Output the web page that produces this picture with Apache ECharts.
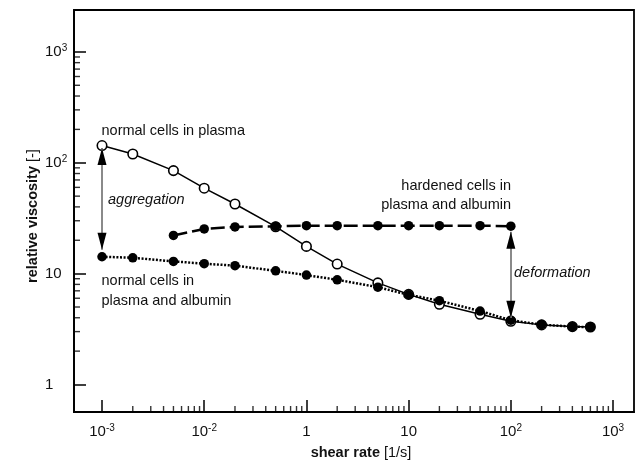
<!DOCTYPE html>
<html><head><meta charset="utf-8">
<script src="https://cdn.jsdelivr.net/npm/echarts@6/dist/echarts.min.js"></script>
<style>html,body{margin:0;padding:0;background:#fff}#c{width:638px;height:463px}</style>
</head><body><div id="c"></div>
<script>
// Shear-rate positions (axis units: one decade per labelled tick)
const shearRate = [0.001,0.002,0.005,0.01,0.02,0.05,0.1,0.2,0.5,1,2,5,10,20,40,60];
const viscNormalPlasma = [143,120,85,59,42.5,26.5,17.6,12.2,8.25,6.5,5.3,4.3,3.72,3.45,3.33,3.3];
const viscNormalAlbumin = [14.2,13.9,12.9,12.3,11.8,10.6,9.7,8.8,7.55,6.45,5.7,4.6,3.8,3.47,3.32,3.3];
const shearRateHardened = [0.005,0.01,0.02,0.05,0.1,0.2,0.5,1,2,5,10];
const viscHardened = [22.1,25.3,26.4,26.7,27.1,27.1,27.1,27.1,27.1,27.1,26.8];

// Tick labels
const xTickExps = [-3,-2,-1,0,1,2];
const xTickBase = ['10','10','1','10','10','10'];
const xTickSup  = ['-3','-2','','','2','3'];
const yTickExps = [0,1,2,3];
const yTickBase = ['1','10','10','10'];
const yTickSup  = ['','','2','3'];

// Annotation arrows [x, yFrom, yTo]
const aggregationArrow = [0.001, 136, 16.4];
const deformationArrow = [10, 23.9, 4.0];

const FONT = '"Liberation Sans", Arial, Helvetica, sans-serif';
const xMin = Math.pow(10, -3.274), xMax = Math.pow(10, 2.205);
const yMin = Math.pow(10, -0.248), yMax = Math.pow(10, 3.378);

function pairs(xs, ys){ return xs.map((x,i)=>[x, ys[i]]); }

// minor ticks (2..9 within each labelled decade)
const xMinor = [], yMinor = [];
for (let e = xTickExps[0]; e < xTickExps[xTickExps.length-1]; e++)
  for (let m = 2; m <= 9; m++) xMinor.push([m*Math.pow(10,e), yMin]);
for (let e = yTickExps[0]; e < yTickExps[yTickExps.length-1]; e++)
  for (let m = 2; m <= 9; m++) yMinor.push([xMin, m*Math.pow(10,e)]);

function tickFmt(exps, bases, sups){
  return function(v){
    const l = Math.log10(v), e = Math.round(l);
    if (Math.abs(l-e) > 1e-6) return '';
    const i = exps.indexOf(e);
    if (i < 0) return '';
    return sups[i] ? '{b|'+bases[i]+'}{s|'+sups[i]+'}' : '{b|'+bases[i]+'}';
  };
}
const richTick = {
  b:{fontSize:15, lineHeight:17, fontFamily:FONT, color:'#111'},
  s:{fontSize:10, lineHeight:11, verticalAlign:'top', fontFamily:FONT, color:'#111'}
};

const chart = echarts.init(document.getElementById('c'), null, {renderer:'canvas'});
const arrowHead = (x, y, up) => ({coord:[x,y], symbol:'triangle', symbolSize:[9,17],
  symbolRotate: up ? 0 : 180, symbolOffset:[0, up ? 8.5 : -8.5], itemStyle:{color:'#000'}});

chart.setOption({
  animation:false,
  backgroundColor:'#fff',
  grid:{left:74, right:4, top:10, bottom:51, containLabel:false, show:true, borderColor:'#000', borderWidth:1.8},
  xAxis:{type:'log', logBase:10, min:xMin, max:xMax,
    axisLine:{show:true, lineStyle:{color:'#000', width:1.8}},
    axisTick:{show:true, inside:true, length:12, lineStyle:{color:'#000', width:1.5}},
    splitLine:{show:false}, minorTick:{show:false},
    axisLabel:{show:true, margin:11, showMinLabel:false, showMaxLabel:false, fontSize:15, fontFamily:FONT, color:'#111',
      formatter: tickFmt(xTickExps, xTickBase, xTickSup), rich: richTick}},
  yAxis:{type:'log', logBase:10, min:yMin, max:yMax,
    axisLine:{show:true, lineStyle:{color:'#000', width:1.8}},
    axisTick:{show:true, inside:true, length:12, lineStyle:{color:'#000', width:1.5}},
    splitLine:{show:false}, minorTick:{show:false},
    axisLabel:{show:true, margin:29, align:'left', showMinLabel:false, showMaxLabel:false, fontSize:15, fontFamily:FONT, color:'#111',
      formatter: tickFmt(yTickExps, yTickBase, yTickSup), rich: richTick}},
  series:[
    {type:'scatter', name:'xMinor', data:xMinor, symbol:'rect', symbolSize:[1.4,6], symbolOffset:[0,-3],
     itemStyle:{color:'#000'}, clip:false, silent:true, z:1},
    {type:'scatter', name:'yMinor', data:yMinor, symbol:'rect', symbolSize:[6,1.4], symbolOffset:[3,0],
     itemStyle:{color:'#000'}, clip:false, silent:true, z:1},
    {type:'line', name:'arrows', data:[], silent:true, z:2,
     markLine:{silent:true, symbol:['none','none'], label:{show:false},
       lineStyle:{color:'#8a8a8a', width:2, type:'solid'},
       data:[
         [{coord:[aggregationArrow[0], aggregationArrow[1]]},{coord:[aggregationArrow[0], aggregationArrow[2]]}],
         [{coord:[deformationArrow[0], deformationArrow[1]]},{coord:[deformationArrow[0], deformationArrow[2]]}]
       ]},
     markPoint:{silent:true, label:{show:false}, symbol:'triangle', symbolSize:[9,17],
       data:[
         arrowHead(aggregationArrow[0], aggregationArrow[1], true),
         arrowHead(aggregationArrow[0], aggregationArrow[2], false),
         arrowHead(deformationArrow[0], deformationArrow[1], true),
         arrowHead(deformationArrow[0], deformationArrow[2], false)
       ]}},
    {type:'line', name:'normal cells in plasma', data:pairs(shearRate, viscNormalPlasma), z:3,
     symbol:'circle', symbolSize:9.5, showSymbol:true,
     lineStyle:{color:'#000', width:1.5, type:'solid'},
     itemStyle:{color:'#fff', borderColor:'#000', borderWidth:1.6}},
    {type:'line', name:'normal cells in plasma and albumin', data:pairs(shearRate, viscNormalAlbumin), z:4,
     symbol:'circle', symbolSize:9.5, showSymbol:true,
     lineStyle:{color:'#000', width:2.5, type:[2,1.6]},
     itemStyle:{color:'#000', borderColor:'#000', borderWidth:0}},
    {type:'line', name:'hardened cells in plasma and albumin', data:pairs(shearRateHardened, viscHardened), z:5,
     symbol:'circle', symbolSize:9.5, showSymbol:true,
     lineStyle:{color:'#000', width:2.5, type:[14,5]},
     itemStyle:{color:'#000', borderColor:'#000', borderWidth:0}}
  ],
  graphic:[
    {type:'text', x:101.5, y:131, silent:true, style:{text:'normal cells in plasma', font:'14.5px '+FONT, fill:'#111', align:'left', verticalAlign:'middle'}},
    {type:'text', x:108, y:200, silent:true, style:{text:'aggregation', font:'italic 14.5px '+FONT, fill:'#111', align:'left', verticalAlign:'middle'}},
    {type:'text', x:101.5, y:291, silent:true, style:{text:'normal cells in\nplasma and albumin', font:'14.5px '+FONT, lineHeight:20, fill:'#111', align:'left', verticalAlign:'middle'}},
    {type:'text', x:511, y:195, silent:true, style:{text:'hardened cells in\nplasma and albumin', font:'14.5px '+FONT, lineHeight:19, fill:'#111', align:'right', verticalAlign:'middle'}},
    {type:'text', x:514, y:273, silent:true, style:{text:'deformation', font:'italic 14.5px '+FONT, fill:'#111', align:'left', verticalAlign:'middle'}},
    {type:'text', x:361, y:453, silent:true, style:{text:'{b|shear rate}{n| [1/s]}', align:'center', verticalAlign:'middle', fill:'#111',
      rich:{b:{fontSize:14.5, fontWeight:'bold', fontFamily:FONT, fill:'#111'}, n:{fontSize:14.5, fontFamily:FONT, fill:'#111'}}}},
    {type:'text', x:33, y:216, rotation:Math.PI/2, silent:true, style:{text:'{b|relative viscosity}{n| [-]}', align:'center', verticalAlign:'middle', fill:'#111',
      rich:{b:{fontSize:14.5, fontWeight:'bold', fontFamily:FONT, fill:'#111'}, n:{fontSize:14.5, fontFamily:FONT, fill:'#111'}}}}
  ]
});
</script></body></html>
